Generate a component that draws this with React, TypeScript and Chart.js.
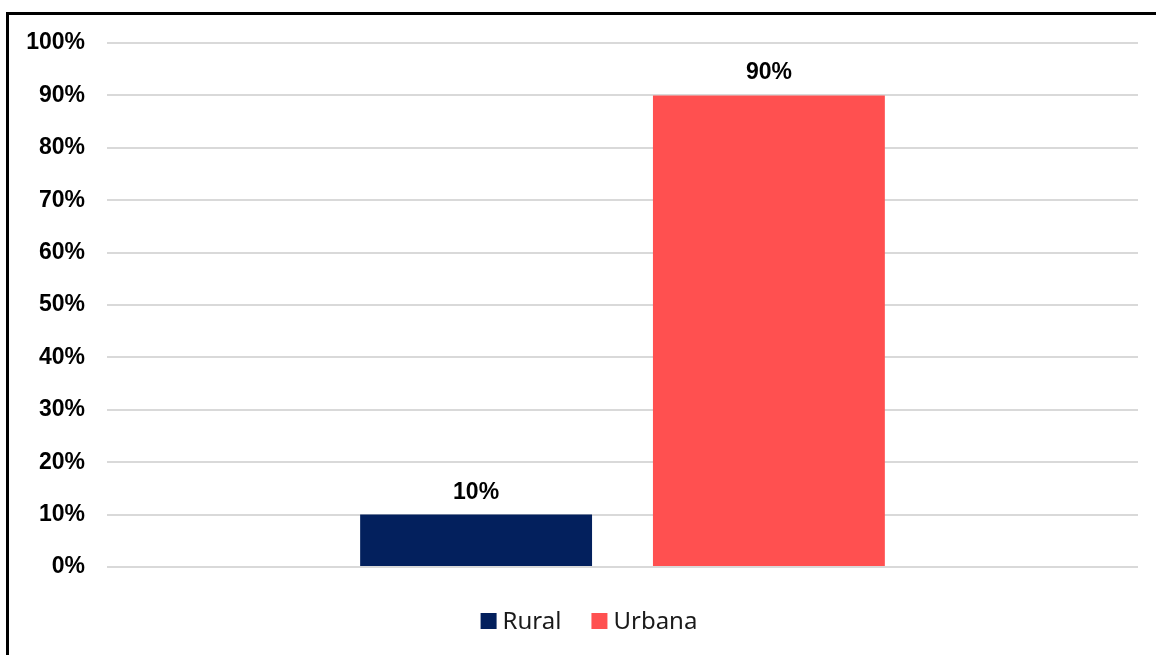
import React, { useEffect, useRef } from "react";
import { Chart, registerables } from "chart.js";

Chart.register(...registerables);

const categories = [""];
const seriesNames = ["Rural", "Urbana"];
const seriesValues = [[10], [90]];
const seriesColors = ["#03205D", "#FF5050"];
const yTicks = [0, 10, 20, 30, 40, 50, 60, 70, 80, 90, 100];

const valueLabelPlugin = {
  id: "valueLabels",
  afterDatasetsDraw(chart: any) {
    const ctx = chart.ctx;
    ctx.save();
    ctx.font = "bold 23px 'Liberation Sans', Arial, sans-serif";
    ctx.fillStyle = "#000000";
    ctx.textAlign = "center";
    ctx.textBaseline = "alphabetic";
    chart.data.datasets.forEach((ds: any, i: number) => {
      const meta = chart.getDatasetMeta(i);
      meta.data.forEach((el: any, j: number) => {
        ctx.fillText(ds.data[j] + "%", el.x, el.y - 16);
      });
    });
    ctx.restore();
  },
};

const customLegendPlugin = {
  id: "customLegend",
  afterDraw(chart: any) {
    const ctx = chart.ctx;
    ctx.save();
    ctx.font = "24px 'Noto Sans', sans-serif";
    const box = 16;
    const gap = 6;
    const itemGap = 30;
    const items = chart.data.datasets.map((ds: any) => ({
      label: ds.label,
      color: ds.backgroundColor,
      w: ctx.measureText(ds.label).width,
    }));
    const total =
      items.reduce((s: number, it: any) => s + box + gap + it.w, 0) +
      itemGap * (items.length - 1);
    let x = 589 - total / 2;
    const boxTop = 613;
    const baseline = 629;
    items.forEach((it: any) => {
      ctx.fillStyle = it.color;
      ctx.fillRect(x, boxTop, box, box);
      x += box + gap;
      ctx.fillStyle = "#1a1a1a";
      ctx.textAlign = "left";
      ctx.textBaseline = "alphabetic";
      ctx.fillText(it.label, x, baseline);
      x += it.w + itemGap;
    });
    ctx.restore();
  },
};

export default function App() {
  const canvasRef = useRef<HTMLCanvasElement | null>(null);

  useEffect(() => {
    if (!canvasRef.current) return;
    const chart = new Chart(canvasRef.current, {
      type: "bar",
      data: {
        labels: categories,
        datasets: seriesNames.map((name, i) => ({
          label: name,
          data: seriesValues[i],
          backgroundColor: seriesColors[i],
          borderWidth: 0,
          categoryPercentage: 0.568,
          barPercentage: 0.792,
        })),
      },
      options: {
        responsive: false,
        animation: false,
        maintainAspectRatio: false,
        layout: { padding: { left: 0, right: 18, top: 43, bottom: 88 } },
        plugins: {
          legend: { display: false },
          tooltip: { enabled: false },
          title: { display: false },
        },
        scales: {
          x: {
            display: false,
          },
          y: {
            min: 0,
            max: 100,
            afterFit(scale: any) {
              scale.width = 107;
            },
            afterBuildTicks(scale: any) {
              scale.ticks = yTicks.map((v) => ({ value: v }));
            },
            border: { display: false },
            grid: {
              color: "#d9d9d9",
              lineWidth: 2,
              drawTicks: false,
            },
            ticks: {
              padding: 22,
              color: "#000000",
              font: { family: "'Liberation Sans', Arial, sans-serif", size: 23, weight: "bold" },
              callback: (v: any) => v + "%",
            },
          },
        },
      },
      plugins: [valueLabelPlugin, customLegendPlugin],
    });
    return () => chart.destroy();
  }, []);

  return (
    <div
      style={{
        position: "fixed",
        left: 0,
        top: 0,
        width: 1156,
        height: 655,
        overflow: "hidden",
        background: "#ffffff",
      }}
    >
      <div
        style={{
          position: "absolute",
          left: 6,
          top: 12,
          width: 1200,
          height: 700,
          border: "3px solid #000000",
        }}
      />
      <canvas
        ref={canvasRef}
        width={1156}
        height={655}
        style={{ position: "absolute", left: 0, top: 0, width: 1156, height: 655 }}
      />
    </div>
  );
}
